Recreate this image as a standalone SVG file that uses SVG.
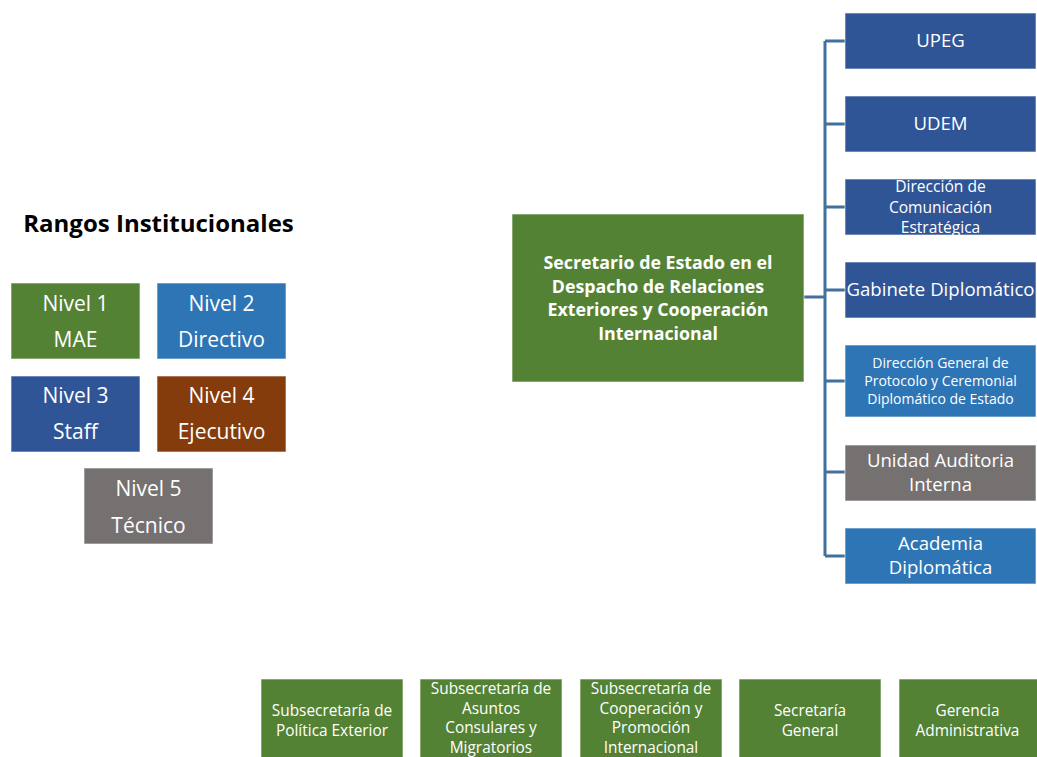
<svg xmlns="http://www.w3.org/2000/svg" width="1037" height="757" viewBox="0 0 1037 757">
<style>
.box{stroke:#ffffff;stroke-opacity:0.6;stroke-width:1}
.g{fill:#548235}.lb{fill:#2E75B6}.db{fill:#2F5597}.br{fill:#843C0C}.gr{fill:#767171}
text{font-family:"Open Sans","Liberation Sans",sans-serif;fill:#ffffff;text-anchor:middle}
.t20{font-size:21px}.t18{font-size:18.6px}.tm{font-size:17.8px}.t15{font-size:15.6px}.t13{font-size:14px}.t14{font-size:15.4px}
.bold{font-weight:bold}
.conn{fill:none;stroke:#41719C;stroke-width:3}
</style>
<rect width="1037" height="757" fill="#ffffff"/>
<text x="158.5" y="232" style="font-size:24px;font-weight:bold;fill:#000000">Rangos Institucionales</text>

<g id="nivel1"><rect class="box g" x="11" y="283" width="129" height="76"/><text class="t20" x="75.5" y="311">Nivel 1</text><text class="t20" x="75.5" y="347">MAE</text></g>
<g id="nivel2"><rect class="box lb" x="157" y="283" width="129" height="76"/><text class="t20" x="221.5" y="311">Nivel 2</text><text class="t20" x="221.5" y="347">Directivo</text></g>
<g id="nivel3"><rect class="box db" x="11" y="376" width="129" height="76"/><text class="t20" x="75.5" y="403">Nivel 3</text><text class="t20" x="75.5" y="439">Staff</text></g>
<g id="nivel4"><rect class="box br" x="157" y="376" width="129" height="76"/><text class="t20" x="221.5" y="403">Nivel 4</text><text class="t20" x="221.5" y="439">Ejecutivo</text></g>
<g id="nivel5"><rect class="box gr" x="84" y="468" width="129" height="76"/><text class="t20" x="148.5" y="496">Nivel 5</text><text class="t20" x="148.5" y="533">Técnico</text></g>

<g id="connectors">
<path class="conn" d="M804,297 H825 M825,41 V556 M825,41 H845 M825,124 H845 M825,207 H845 M825,290 H845 M825,381 H845 M825,472 H845 M825,556 H845"/>
</g>

<g id="secretario"><rect class="box g" x="512" y="214" width="292" height="168"/>
<text class="tm bold" x="658" y="269">Secretario de Estado en el</text>
<text class="tm bold" x="658" y="293">Despacho de Relaciones</text>
<text class="tm bold" x="658" y="316">Exteriores y Cooperación</text>
<text class="tm bold" x="658" y="340">Internacional</text></g>

<g id="upeg"><rect class="box db" x="845" y="13" width="191" height="56"/><text class="t18" x="940.5" y="47">UPEG</text></g>
<g id="udem"><rect class="box db" x="845" y="96" width="191" height="56"/><text class="t18" x="940.5" y="130">UDEM</text></g>
<g id="comunicacion"><rect class="box db" x="845" y="179" width="191" height="56"/><text class="t15" x="940.5" y="192">Dirección de</text><text class="t15" x="940.5" y="212.5">Comunicación</text><text class="t15" x="940.5" y="233">Estratégica</text></g>
<g id="gabinete"><rect class="box db" x="845" y="262" width="191" height="56"/><text class="t18" x="940.5" y="296">Gabinete Diplomático</text></g>
<g id="protocolo"><rect class="box lb" x="845" y="345" width="191" height="72"/><text class="t13" x="940.5" y="368">Dirección General de</text><text class="t13" x="940.5" y="386">Protocolo y Ceremonial</text><text class="t13" x="940.5" y="404">Diplomático de Estado</text></g>
<g id="auditoria"><rect class="box gr" x="845" y="445" width="191" height="56"/><text class="t18" x="940.5" y="467">Unidad Auditoria</text><text class="t18" x="940.5" y="491">Interna</text></g>
<g id="academia"><rect class="box lb" x="845" y="528" width="191" height="56"/><text class="t18" x="940.5" y="550">Academia</text><text class="t18" x="940.5" y="574">Diplomática</text></g>

<g id="politica"><rect class="box g" x="261" y="679" width="142" height="90"/><text class="t14" x="332" y="716">Subsecretaría de</text><text class="t14" x="332" y="736">Política Exterior</text></g>
<g id="consulares"><rect class="box g" x="420" y="679" width="142" height="90"/><text class="t14" x="491" y="694">Subsecretaría de</text><text class="t14" x="491" y="713.5">Asuntos</text><text class="t14" x="491" y="733">Consulares y</text><text class="t14" x="491" y="752.5">Migratorios</text></g>
<g id="cooperacion"><rect class="box g" x="580" y="679" width="142" height="90"/><text class="t14" x="651" y="694">Subsecretaría de</text><text class="t14" x="651" y="713.5">Cooperación y</text><text class="t14" x="651" y="733">Promoción</text><text class="t14" x="651" y="752.5">Internacional</text></g>
<g id="secretaria"><rect class="box g" x="739" y="679" width="142" height="90"/><text class="t14" x="810" y="716">Secretaría</text><text class="t14" x="810" y="736">General</text></g>
<g id="gerencia"><rect class="box g" x="899" y="679" width="142" height="90"/><text class="t14" x="967.5" y="716">Gerencia</text><text class="t14" x="967.5" y="736">Administrativa</text></g>
</svg>
